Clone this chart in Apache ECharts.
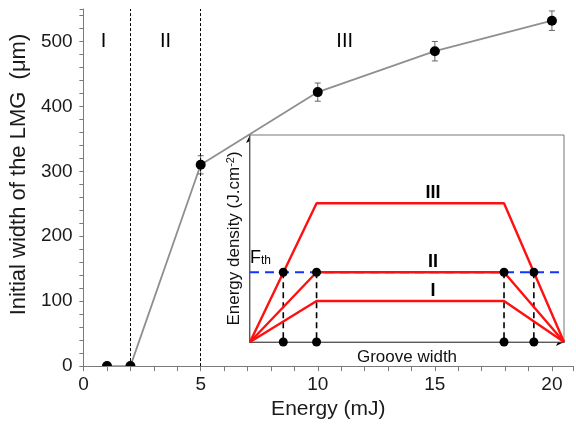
<!DOCTYPE html>
<html>
<head>
<meta charset="utf-8">
<script src="https://cdn.jsdelivr.net/npm/echarts@6/dist/echarts.min.js"></script>
<style>
  html, body { margin: 0; padding: 0; background: #fff; }
  #chart { width: 576px; height: 425px; }
</style>
</head>
<body>
<div id="chart"></div>
<script>
// Main plot: initial LMG width vs pulse energy
const energy = [1, 2, 5, 10, 15, 20];
const lmgWidth = [0, 0, 310, 422, 485, 532];
const lmgErr = [0, 0, 14, 14, 15, 15];
const regionBounds = [2, 5];
const regionNames = ['I', 'II', 'III'];
const regionNameX = [0.85, 3.5, 11.15];
const regionNameY = 500;

// Inset: energy density profile across the groove (arbitrary units 0..100)
const profileX = [0, 21.2, 80.9, 100];
const profileI = [0, 19.8, 19.8, 0];
const profileII = [0, 33.7, 33.7, 0];
const profileIII = [0, 67, 67, 0];
const fth = 33.7;
const crossX = [10.6, 21.2, 80.9, 90.4];
const profileLabelX = 58.3;

const FONT = '"Liberation Sans", Arial, sans-serif';
const AXIS_GRAY = '#7a7a7a';

const chart = echarts.init(document.getElementById('chart'));

function pairs(xs, ys) {
  return xs.map((x, i) => [x, ys[i]]);
}

const option = {
  animation: false,
  textStyle: { fontFamily: FONT },
  grid: [
    { left: 78, right: 0, top: 9, bottom: 56 },
    { left: 250, right: 12, top: 135, bottom: 83, show: true, backgroundColor: '#fff', borderColor: '#777', borderWidth: 1, z: 5 }
  ],
  xAxis: [
    {
      gridIndex: 0, type: 'value', min: 0, max: 20.9, interval: 1,
      name: 'Energy (mJ)', nameLocation: 'middle', nameGap: 30,
      nameTextStyle: { fontSize: 21, color: '#1a1a1a' },
      axisLine: { lineStyle: { color: AXIS_GRAY, width: 1 } },
      axisTick: { inside: false, length: 5, lineStyle: { color: AXIS_GRAY } },
      axisLabel: {
        fontSize: 19, color: '#1a1a1a', margin: 9,
        formatter: v => (v % 5 === 0 ? String(v) : '')
      },
      splitLine: { show: false }
    },
    {
      gridIndex: 1, type: 'value', min: 0, max: 100,
      name: 'Groove width', nameLocation: 'middle', nameGap: 7,
      nameTextStyle: { fontSize: 17, color: '#111' },
      axisLine: { symbol: ['none', 'arrow'], symbolSize: [6, 8], lineStyle: { color: '#000', width: 1.5 } },
      axisTick: { show: false }, axisLabel: { show: false }, splitLine: { show: false }
    },
    {
      gridIndex: 0, type: 'value', position: 'top', min: 0, max: 20.9,
      axisLine: { lineStyle: { color: AXIS_GRAY, width: 1 } },
      axisTick: { show: false }, axisLabel: { show: false }, splitLine: { show: false }
    }
  ],
  yAxis: [
    {
      gridIndex: 0, type: 'value', min: 0, max: 550, interval: 20,
      name: 'Initial width of the LMG  (μm)', nameLocation: 'middle', nameGap: 46,
      nameTextStyle: { fontSize: 22, color: '#1a1a1a', padding: [0, 0, 0, 26] },
      axisLine: { lineStyle: { color: AXIS_GRAY, width: 1 } },
      axisTick: { length: 4, lineStyle: { color: AXIS_GRAY } },
      axisLabel: {
        fontSize: 19, color: '#1a1a1a', margin: 11, showMaxLabel: false,
        formatter: v => (v % 100 === 0 ? String(v) : '')
      },
      splitLine: { show: false }
    },
    {
      gridIndex: 0, type: 'value', position: 'right', min: 0, max: 550, interval: 20,
      axisLine: { show: false },
      axisTick: { inside: true, length: 4, lineStyle: { color: AXIS_GRAY } },
      axisLabel: { show: false }, splitLine: { show: false }
    },
    {
      gridIndex: 1, type: 'value', min: 0, max: 100,
      name: '{n|Energy density (J.cm}{sup|-2}{n|)}', nameLocation: 'middle', nameGap: 7,
      nameTextStyle: {
        color: '#111',
        rich: {
          n: { fontSize: 17, lineHeight: 18, padding: [3, 0, 0, 0], verticalAlign: 'bottom', color: '#111' },
          sup: { fontSize: 11, lineHeight: 12, verticalAlign: 'top', color: '#111' }
        }
      },
      axisLine: { symbol: ['none', 'arrow'], symbolSize: [6, 8], lineStyle: { color: '#000', width: 1.5 } },
      axisTick: { show: false }, axisLabel: { show: false }, splitLine: { show: false }
    }
  ],
  series: [
    {
      type: 'line', xAxisIndex: 0, yAxisIndex: 0,
      data: pairs(energy, lmgWidth),
      symbol: 'none',
      lineStyle: { color: '#8f8f8f', width: 1.8 },
      markLine: {
        silent: true, symbol: ['none', 'none'], label: { show: false },
        lineStyle: { color: '#000', type: [3, 2], width: 1 },
        data: regionBounds.map(x => ({ xAxis: x }))
      },
      z: 2
    },
    {
      // points with error bars; markers sitting on the x axis are cut to their upper half
      type: 'custom', xAxisIndex: 0, yAxisIndex: 0, clip: true,
      data: energy.map((x, i) => [x, lmgWidth[i], lmgErr[i]]),
      renderItem: function (params, api) {
        const x = api.value(0), y = api.value(1), e = api.value(2);
        const c = api.coord([x, y]);
        const base = api.coord([x, 0])[1];
        const children = [];
        if (e > 0) {
          const top = api.coord([x, y + e])[1];
          const bot = api.coord([x, y - e])[1];
          const st = { stroke: '#666', lineWidth: 1 };
          children.push({ type: 'line', shape: { x1: c[0], y1: top, x2: c[0], y2: bot }, style: st });
          children.push({ type: 'line', shape: { x1: c[0] - 3, y1: top, x2: c[0] + 3, y2: top }, style: st });
          children.push({ type: 'line', shape: { x1: c[0] - 3, y1: bot, x2: c[0] + 3, y2: bot }, style: st });
        }
        if (Math.abs(c[1] - base) < 1) {
          children.push({
            type: 'sector',
            shape: { cx: c[0], cy: c[1], r0: 0, r: 5, startAngle: Math.PI, endAngle: 2 * Math.PI },
            style: { fill: '#000' }
          });
        } else {
          children.push({ type: 'circle', shape: { cx: c[0], cy: c[1], r: 5 }, style: { fill: '#000' } });
        }
        return { type: 'group', children: children };
      },
      z: 3
    },
    {
      type: 'scatter', xAxisIndex: 0, yAxisIndex: 0, symbolSize: 0,
      itemStyle: { opacity: 1 },
      data: regionNames.map((n, i) => ({ name: n, value: [regionNameX[i], regionNameY] })),
      label: { show: true, position: 'inside', formatter: '{b}', fontSize: 20, color: '#000' },
      z: 3
    },
    // inset
    {
      type: 'line', xAxisIndex: 1, yAxisIndex: 2, data: [[0, fth], [100, fth]],
      symbol: 'none', clip: false,
      lineStyle: { color: '#1533ff', width: 2, type: [9, 6] }, z: 10
    },
    {
      type: 'custom', xAxisIndex: 1, yAxisIndex: 2, clip: false,
      data: crossX.map(x => [x, fth]),
      renderItem: function (params, api) {
        const p1 = api.coord([api.value(0), api.value(1)]);
        const p0 = api.coord([api.value(0), 0]);
        return {
          type: 'line', shape: { x1: p1[0], y1: p1[1], x2: p0[0], y2: p0[1] },
          style: { stroke: '#000', lineWidth: 1.6, lineDash: [6, 4] }
        };
      },
      z: 10
    },
    ...[profileI, profileII, profileIII].map(ys => ({
      type: 'line', xAxisIndex: 1, yAxisIndex: 2, data: pairs(profileX, ys),
      symbol: 'none', clip: false,
      lineStyle: { color: '#ff1010', width: 2.4 }, z: 11
    })),
    {
      type: 'scatter', xAxisIndex: 1, yAxisIndex: 2, clip: false,
      symbolSize: 9, itemStyle: { color: '#000', opacity: 1 },
      data: crossX.map(x => [x, fth]).concat(crossX.map(x => [x, 0])),
      z: 12
    },
    {
      type: 'scatter', xAxisIndex: 1, yAxisIndex: 2, symbolSize: 0,
      itemStyle: { opacity: 1 },
      data: [
        { name: 'I', value: [profileLabelX, profileI[1]] },
        { name: 'II', value: [profileLabelX, profileII[1]] },
        { name: 'III', value: [profileLabelX, profileIII[1]] }
      ],
      label: { show: true, position: 'top', distance: 1, formatter: '{b}', fontSize: 18, fontWeight: 'bold', color: '#000' },
      z: 12
    },
    {
      type: 'scatter', xAxisIndex: 1, yAxisIndex: 2, symbolSize: 0, clip: false,
      itemStyle: { opacity: 1 },
      data: [[0, 40.5]],
      label: {
        show: true, position: 'right', distance: 0,
        formatter: '{f|F}{s|th}',
        rich: {
          f: { fontSize: 18, lineHeight: 18, verticalAlign: 'top', color: '#000' },
          s: { fontSize: 12, lineHeight: 12, padding: [10, 0, 0, 0], verticalAlign: 'bottom', color: '#000' }
        }
      },
      z: 12
    }
  ]
};

chart.setOption(option);
</script>
</body>
</html>
